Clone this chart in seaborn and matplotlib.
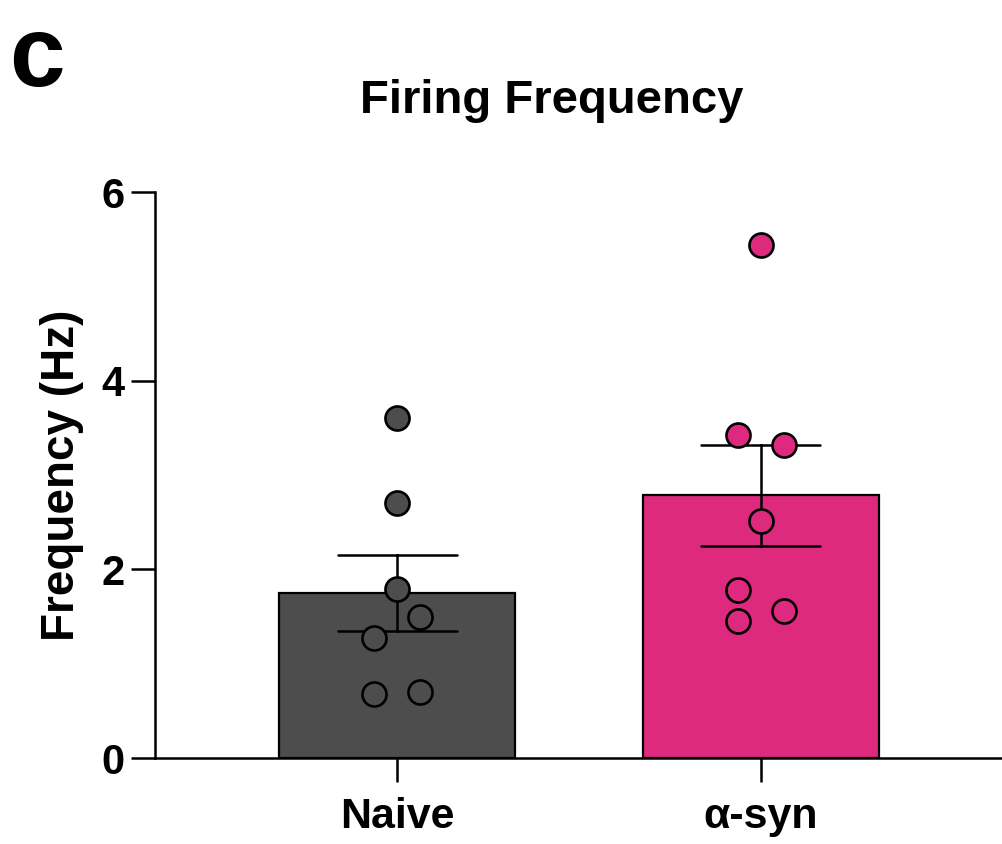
import numpy as np
import pandas as pd
import matplotlib
matplotlib.use("Agg")
import matplotlib.pyplot as plt
import seaborn as sns

# ---- data ----
groups = ["Naive", "α-syn"]
naive_vals = [3.60, 2.70, 1.79, 1.49, 1.27, 0.68, 0.70]
asyn_vals = [5.44, 3.42, 3.32, 2.51, 1.78, 1.56, 1.45]
y_ticks = [0, 2, 4, 6]
title = "Firing Frequency"
ylabel = "Frequency (Hz)"
panel_letter = "c"

# ---- styling / layout ----
colors = ["#4d4d4d", "#dd297e"]
naive_offsets = [0, 0, 0, 1, -1, -1, 1]
asyn_offsets = [0, -1, 1, 0, -1, 1, -1]
dx = 0.063

sns.set_style("ticks")
plt.rcParams["font.family"] = ["Liberation Sans", "DejaVu Sans"]
plt.rcParams["font.weight"] = "bold"
plt.rcParams["text.color"] = "black"
plt.rcParams["axes.edgecolor"] = "black"
plt.rcParams["xtick.color"] = "black"
plt.rcParams["ytick.color"] = "black"
plt.rcParams["axes.labelcolor"] = "black"

df = pd.DataFrame({
    "group": [groups[0]] * len(naive_vals) + [groups[1]] * len(asyn_vals),
    "value": naive_vals + asyn_vals,
})

fig = plt.figure(figsize=(10.03, 8.44), dpi=100)
ax = fig.add_axes([155 / 1003, 86 / 844, 848 / 1003, 566 / 844])

sns.barplot(data=df, x="group", y="value", hue="group", palette=colors,
            order=groups, hue_order=groups, legend=False, saturation=1,
            estimator="mean", errorbar="se", capsize=0.327, width=0.65,
            edgecolor="black", linewidth=1.6,
            err_kws={"color": "black", "linewidth": 1.8}, ax=ax)

for i, (vals, offs) in enumerate([(naive_vals, naive_offsets), (asyn_vals, asyn_offsets)]):
    xs = [i + o * dx for o in offs]
    ax.scatter(xs, vals, s=300, facecolor=colors[i], edgecolor="black",
               linewidth=1.9, zorder=5, clip_on=False)

ax.set_xlim(-0.665, 1.665)
ax.set_ylim(0, 6)
ax.set_yticks(y_ticks)
ax.set_yticklabels([str(t) for t in y_ticks])
sns.despine(ax=ax, top=True, right=True)
for s in ["left", "bottom"]:
    ax.spines[s].set_linewidth(1.8)
    ax.spines[s].set_color("black")
ax.tick_params(axis="y", length=17, width=1.8, labelsize=30, pad=5, colors="black")
ax.tick_params(axis="x", length=17, width=1.8, labelsize=31, pad=11, colors="black")
for lab in ax.get_xticklabels() + ax.get_yticklabels():
    lab.set_fontweight("bold")

ax.set_xlabel("")
ax.set_ylabel(ylabel, fontsize=33, fontweight="bold", color="black")
ax.yaxis.set_label_coords(-0.084, 0.5)

fig.text(552 / 1003, 1 - 101 / 844, title, ha="center", va="center",
         fontsize=34, fontweight="bold", color="black")
fig.text(9 / 1003, 1 - 60 / 844, panel_letter, ha="left", va="center",
         fontsize=72, fontweight="bold", color="black")

fig.savefig("out.png", dpi=100)
